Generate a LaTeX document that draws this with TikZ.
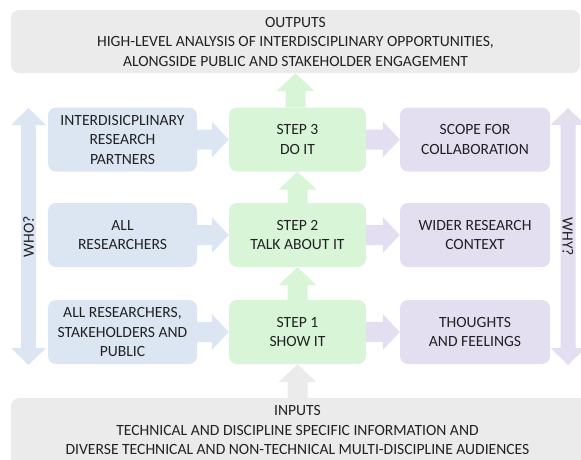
\documentclass[tikz,border=0pt]{standalone}
\usepackage{fontspec}
\setmainfont{Carlito}
\usetikzlibrary{calc,backgrounds}
\definecolor{bluebox}{HTML}{DCE6F2}
\definecolor{greenbox}{HTML}{D8F5D8}
\definecolor{purplebox}{HTML}{E4DEF1}
\definecolor{graybox}{HTML}{EBEBEB}
\definecolor{txt}{HTML}{222222}
% horizontal block arrow from node #1 (east) to node #2 (west)
\newcommand{\harrow}[3]{%
  \fill[#3] ($(#1.east)+(0,-10)$) -- ($(#2.west)+(-17,-10)$) -- ($(#2.west)+(-17,-18)$) -- (#2.west)
    -- ($(#2.west)+(-17,18)$) -- ($(#2.west)+(-17,10)$) -- ($(#1.east)+(0,10)$) -- cycle;}
% vertical block arrow from node #1 (north) up to node #2 (south)
\newcommand{\varrow}[3]{%
  \fill[#3] ($(#1.north -| #2.south)+(-10,0)$) -- ($(#2.south)+(-10,18)$) -- ($(#2.south)+(-19,18)$) -- (#2.south)
    -- ($(#2.south)+(19,18)$) -- ($(#2.south)+(10,18)$) -- ($(#1.north -| #2.south)+(10,0)$) -- cycle;}
\begin{document}
\begin{tikzpicture}[x=1pt,y=-1pt,
  font=\fontsize{15.6}{19.5}\selectfont,
  every node/.style={text=txt},
  box/.style={rounded corners=8pt, minimum height=64pt, align=center, inner sep=0pt},
  bluenode/.style={box, fill=bluebox, minimum width=149pt},
  greennode/.style={box, fill=greenbox, minimum width=137pt},
  purplenode/.style={box, fill=purplebox, minimum width=150pt}]
\useasboundingbox (0,0) rectangle (581,459);
\clip (0,0) rectangle (581,459);

% outputs / inputs
\node[box, fill=graybox, minimum width=569pt, minimum height=63pt] (out) at (295.5,41.5)
  {OUTPUTS\\HIGH-LEVEL ANALYSIS OF INTERDISCIPLINARY OPPORTUNITIES,\\ALONGSIDE PUBLIC AND STAKEHOLDER ENGAGEMENT};
\node[box, fill=graybox, minimum width=579pt, minimum height=80pt, anchor=north] (in) at (300.5,398) {};
\node[align=center, inner sep=0pt] (intext) at (297.5,430)
  {INPUTS\\TECHNICAL AND DISCIPLINE SPECIFIC INFORMATION AND\\DIVERSE TECHNICAL AND NON-TECHNICAL MULTI-DISCIPLINE AUDIENCES};

% who column
\node[bluenode] (b3) at (122.5,139.5) {INTERDISICPLINARY\\RESEARCH\\PARTNERS};
\node[bluenode] (b2) at (122.5,235) {ALL\\RESEARCHERS};
\node[bluenode] (b1) at (122.5,332) {ALL RESEARCHERS,\\STAKEHOLDERS AND\\PUBLIC};

% steps
\node[greennode] (s3) at (297.5,139.5) {STEP 3\\DO IT};
\node[greennode] (s2) at (297.5,235) {STEP 2\\TALK ABOUT IT};
\node[greennode] (s1) at (297.5,332) {STEP 1\\SHOW IT};

% why column
\node[purplenode] (p3) at (475,139.5) {SCOPE FOR\\COLLABORATION};
\node[purplenode] (p2) at (475,235) {WIDER RESEARCH\\CONTEXT};
\node[purplenode] (p1) at (475,332) {THOUGHTS\\AND FEELINGS};

% side double arrows
\fill[bluebox] (28.5,108) -- (46,125) -- (36,125) -- (36,348) -- (46,348) -- (28.5,365)
  -- (11,348) -- (21,348) -- (21,125) -- (11,125) -- cycle;
\node[rotate=90] (who) at (28.5,237) {WHO?};
\fill[purplebox] (568,108) -- (585.5,125) -- (575.5,125) -- (575.5,348) -- (585.5,348) -- (568,365)
  -- (550.5,348) -- (560.5,348) -- (560.5,125) -- (550.5,125) -- cycle;
\node[rotate=-90] (why) at (568,237) {WHY?};

\begin{pgfonlayer}{background}
  \harrow{b3}{s3}{bluebox}
  \harrow{b2}{s2}{bluebox}
  \harrow{b1}{s1}{bluebox}
  \harrow{s3}{p3}{purplebox}
  \harrow{s2}{p2}{purplebox}
  \harrow{s1}{p1}{purplebox}
  \varrow{s3}{out}{greenbox}
  \varrow{s2}{s3}{greenbox}
  \varrow{s1}{s2}{greenbox}
  \varrow{in}{s1}{graybox}
\end{pgfonlayer}
\end{tikzpicture}
\end{document}
